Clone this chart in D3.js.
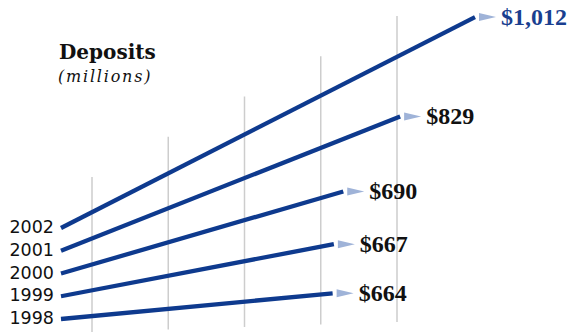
<!doctype html>
<html lang="en">

<head>
  <meta charset="UTF-8">
  <title>Deposits</title>
  <style type="text/css">
    * {
      padding: 0;
      margin: 0;
    }

    body {
      background: #fff;
    }

    .year text {
      font-family: "DejaVu Sans", sans-serif;
      font-size: 17.5px;
      fill: #111;
    }

    .value text {
      font-family: "Liberation Serif", serif;
      font-weight: bold;
      font-size: 24px;
    }
  </style>
  <script src="https://cdn.jsdelivr.net/npm/d3@7/dist/d3.min.js"></script>
</head>

<body>
  <svg width="569" height="332"></svg>

  <script>
    var years = ["1998", "1999", "2000", "2001", "2002"];
    var deposits = [664, 667, 690, 829, 1012];
    var valueLabels = ["$664", "$667", "$690", "$829", "$1,012"];

    var blue = "#0e3a8e";
    var arrowBlue = "#9fb3d8";

    var svg = d3.select("svg");

    // value -> where the line stops
    var xScale = d3.scaleLinear()
      .domain([0, d3.max(deposits)])
      .range([61, 475]);

    // year -> where the line starts
    var yScale = d3.scalePoint()
      .domain(years)
      .range([319, 228]);

    // each year fans out a little more
    var tilt = d3.scaleLinear()
      .domain([0, years.length - 1])
      .range([5.4, 27]);

    // background staircase of grey rules
    var gridIdx = d3.range(5);
    var gridX = d3.scaleLinear().domain([0, 4]).range([92, 397]);
    var gridTop = d3.scaleLinear().domain([0, 4]).range([177, 16]);
    var gridBottom = d3.scaleLinear().domain([0, 4]).range([332, 322]);

    svg.append("g")
      .selectAll("line")
      .data(gridIdx)
      .enter()
      .append("line")
      .attr("x1", function (d) { return gridX(d); })
      .attr("x2", function (d) { return gridX(d); })
      .attr("y1", function (d) { return gridTop(d); })
      .attr("y2", function (d) { return gridBottom(d); })
      .attr("stroke", "#cdcdcd")
      .attr("stroke-width", 1.5);

    var rows = years.map(function (y, i) {
      var x0 = xScale(0);
      var y0 = yScale(y);
      var x1 = xScale(deposits[i]);
      var y1 = y0 - (x1 - x0) * Math.tan(tilt(i) * Math.PI / 180);
      return { year: y, label: valueLabels[i], x0: x0, y0: y0, x1: x1, y1: y1, top: i === years.length - 1 };
    });

    svg.append("g")
      .selectAll("line")
      .data(rows)
      .enter()
      .append("line")
      .attr("x1", function (d) { return d.x0; })
      .attr("y1", function (d) { return d.y0; })
      .attr("x2", function (d) { return d.x1; })
      .attr("y2", function (d) { return d.y1; })
      .attr("stroke", blue)
      .attr("stroke-width", 4.3);

    // little pointers
    svg.append("g")
      .selectAll("path")
      .data(rows)
      .enter()
      .append("path")
      .attr("d", function (d) {
        var a = d.x1 + 4, b = d.x1 + 21;
        return "M" + a + "," + (d.y1 - 4) + "L" + b + "," + d.y1 + "L" + a + "," + (d.y1 + 4) + "Z";
      })
      .attr("fill", arrowBlue);

    svg.append("g")
      .attr("class", "value")
      .selectAll("text")
      .data(rows)
      .enter()
      .append("text")
      .attr("x", function (d) { return d.x1 + 26; })
      .attr("y", function (d) { return d.y1 + 8; })
      .attr("fill", function (d) { return d.top ? "#1a3f90" : "#111"; })
      .text(function (d) { return d.label; });

    svg.append("g")
      .attr("class", "year")
      .selectAll("text")
      .data(rows)
      .enter()
      .append("text")
      .attr("x", 54)
      .attr("y", function (d) { return d.y0 + 5; })
      .attr("text-anchor", "end")
      .text(function (d) { return d.year; });

    // title
    svg.append("text")
      .attr("x", 59)
      .attr("y", 59)
      .attr("font-family", "DejaVu Serif, serif")
      .attr("font-weight", "bold")
      .attr("font-size", 20)
      .attr("fill", "#111")
      .text("Deposits");

    svg.append("text")
      .attr("x", 58)
      .attr("y", 82)
      .attr("font-family", "DejaVu Serif, serif")
      .attr("font-style", "italic")
      .attr("font-size", 16)
      .attr("letter-spacing", 1.8)
      .attr("fill", "#111")
      .text("(millions)");
  </script>
</body>

</html>
